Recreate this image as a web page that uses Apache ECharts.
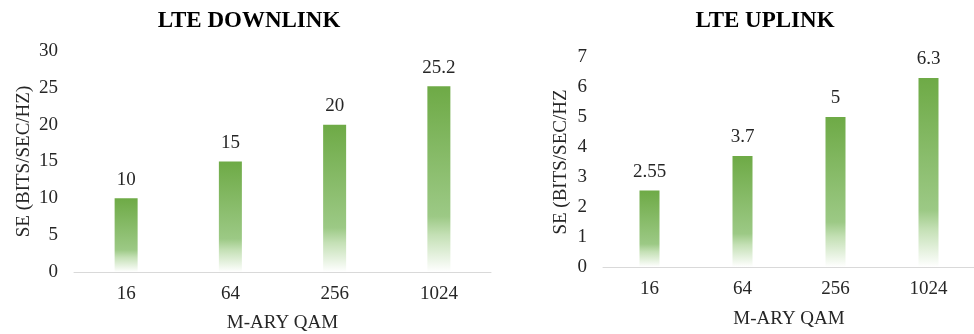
<!DOCTYPE html>
<html>
<head>
<meta charset="utf-8">
<script src="https://cdn.jsdelivr.net/npm/echarts@6/dist/echarts.min.js"></script>
<style>
html,body{margin:0;padding:0;background:#fff;}
#c{width:974px;height:334px;}
</style>
</head>
<body>
<div id="c"></div>
<script>
const categories = ['16', '64', '256', '1024'];
const downlinkValues = [10, 15, 20, 25.2];
const uplinkValues = [2.55, 3.7, 5, 6.3];
const downlinkTitle = 'LTE DOWNLINK';
const uplinkTitle = 'LTE UPLINK';
const xName = 'M-ARY QAM';
const yNameDown = 'SE (BITS/SEC/HZ)';
const yNameUp = 'SE (BITS/SEC/HZ';

const FONT = '"Liberation Serif", "Times New Roman", serif';
const TXT = '#262626';

function grad() {
  return new echarts.graphic.LinearGradient(0, 0, 0, 1, [
    { offset: 0, color: '#6EAA46' },
    { offset: 0.7, color: '#9CC985' },
    { offset: 0.8, color: '#C4E0B5' },
    { offset: 1, color: '#FFFFFF' }
  ]);
}

function xAxis(gi, gap) {
  return {
    type: 'category', gridIndex: gi, data: categories,
    name: xName, nameLocation: 'middle', nameGap: gap,
    nameTextStyle: { fontFamily: FONT, fontSize: 19, color: TXT },
    axisLine: { lineStyle: { color: '#D9D9D9', width: 1 } },
    axisTick: { show: false },
    axisLabel: { fontFamily: FONT, fontSize: 19, color: TXT, margin: 13 }
  };
}
function yAxis(gi, max, interval, name, gap) {
  return {
    type: 'value', gridIndex: gi, min: 0, max: max, interval: interval,
    name: name, nameLocation: 'middle', nameGap: gap, nameRotate: 90,
    nameTextStyle: { fontFamily: FONT, fontSize: 19, color: TXT },
    axisLine: { show: false }, axisTick: { show: false },
    splitLine: { show: false },
    axisLabel: { fontFamily: FONT, fontSize: 19, color: TXT, margin: 16 }
  };
}
function series(i, vals, w) {
  return {
    type: 'bar', xAxisIndex: i, yAxisIndex: i, data: vals,
    barWidth: w,
    itemStyle: { color: grad() },
    label: { show: true, position: 'top', distance: 9, fontFamily: FONT, fontSize: 19, color: TXT },
    animation: false
  };
}

const chart = echarts.init(document.getElementById('c'));
chart.setOption({
  animation: false,
  title: [
    { text: downlinkTitle, left: 244, top: 5, textAlign: 'center',
      textStyle: { fontFamily: FONT, fontSize: 23, fontWeight: 'bold', color: '#000' } },
    { text: uplinkTitle, left: 760, top: 5, textAlign: 'center',
      textStyle: { fontFamily: FONT, fontSize: 23, fontWeight: 'bold', color: '#000' } }
  ],
  grid: [
    { left: 74, right: 483, top: 51, bottom: 62, outerBoundsMode: 'none', containLabel: false },
    { left: 603, right: -1, top: 57, bottom: 67, outerBoundsMode: 'none', containLabel: false }
  ],
  xAxis: [xAxis(0, 42), xAxis(1, 43)],
  yAxis: [yAxis(0, 30, 5, yNameDown, 40), yAxis(1, 7, 1, yNameUp, 32)],
  series: [series(0, downlinkValues, 23), series(1, uplinkValues, 20)]
});
</script>
</body>
</html>
